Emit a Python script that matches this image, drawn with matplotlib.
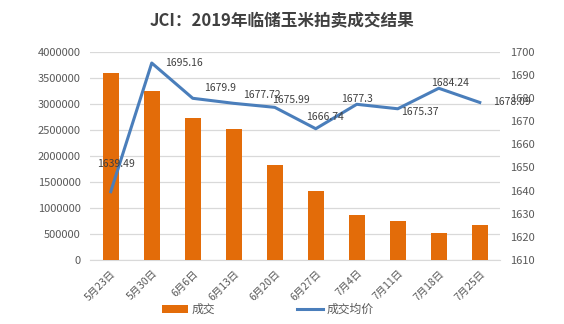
import matplotlib
matplotlib.use("Agg")
import numpy as np
from matplotlib import pyplot as plt
from matplotlib.ticker import FuncFormatter

plt.rcParams['font.family'] = ['Noto Sans CJK SC', 'DejaVu Sans']

# datos
fechas = ["5月23日", "5月30日", "6月6日", "6月13日", "6月20日",
          "6月27日", "7月4日", "7月11日", "7月18日", "7月25日"]
volumen = [3600000, 3250000, 2730000, 2520000, 1830000,
           1330000, 870000, 750000, 520000, 670000]
precio = [1639.49, 1695.16, 1679.9, 1677.72, 1675.99,
          1666.74, 1677.3, 1675.37, 1684.24, 1678.09]
etiquetas = ["1639.49", "1695.16", "1679.9", "1677.72", "1675.99",
             "1666.74", "1677.3", "1675.37", "1684.24", "1678.09"]

naranja = "#E36C09"
azul = "#4A7EBB"
gris = "#595959"

fig = plt.figure(figsize=(5.64, 3.24), dpi=100)
ax = fig.add_axes([0.160, 0.198, 0.727, 0.642])
ax2 = ax.twinx()

x = np.arange(len(fechas))
ax.bar(x, volumen, width=0.39, color=naranja, label="成交", zorder=2)
ax.set_ylim(0, 4000000)
ax.set_yticks(np.arange(0, 4000001, 500000))
ax.yaxis.set_major_formatter(FuncFormatter(lambda v, p: "%d" % v))
ax.set_xlim(-0.5, len(fechas) - 0.5)
ax.grid(axis="y", color="#D9D9D9", linewidth=0.9, zorder=0)
ax.set_axisbelow(True)

ax2.plot(x, precio, color=azul, linewidth=2.2, label="成交均价", zorder=3)
ax2.set_ylim(1610, 1700)
ax2.set_yticks(np.arange(1610, 1701, 10))

# desplazamiento de cada etiqueta (en puntos)
offsets = [(4, 20), (23, 0), (20, 7.5), (20, 6), (11.5, 5),
           (6.5, 8.5), (0, 4), (16, -2.5), (8.5, 4), (23, 0)]
for i in range(len(precio)):
    ax2.annotate(etiquetas[i], (x[i], precio[i]), xytext=offsets[i],
                 textcoords="offset points", ha="center", va="center",
                 fontsize=7.5, color="#404040", zorder=4)

for a in (ax, ax2):
    for s in a.spines.values():
        s.set_visible(False)
    a.tick_params(length=0, labelsize=8, labelcolor=gris, pad=7)
ax.spines["bottom"].set_visible(True)
ax.spines["bottom"].set_color("#D9D9D9")
ax.spines["bottom"].set_zorder(0)

ax.set_xticks(x)
ax.set_xticklabels(fechas, rotation=45, ha="right", rotation_mode="anchor")
ax.tick_params(axis="x", pad=6, labelsize=7.5)

fig.text(0.5, 0.935, "JCI：2019年临储玉米拍卖成交结果", ha="center", va="center",
         fontsize=12, fontweight="bold", color="#404040")

h1, l1 = ax.get_legend_handles_labels()
h2, l2 = ax2.get_legend_handles_labels()
fig.legend(h1 + h2, l1 + l2, loc="center", bbox_to_anchor=(0.475, 0.045),
           ncol=2, frameon=False, fontsize=8.5, labelcolor=gris,
           columnspacing=7, handlelength=2.2, handletextpad=0.3)

fig.savefig("out.png", dpi=100, facecolor="white")
